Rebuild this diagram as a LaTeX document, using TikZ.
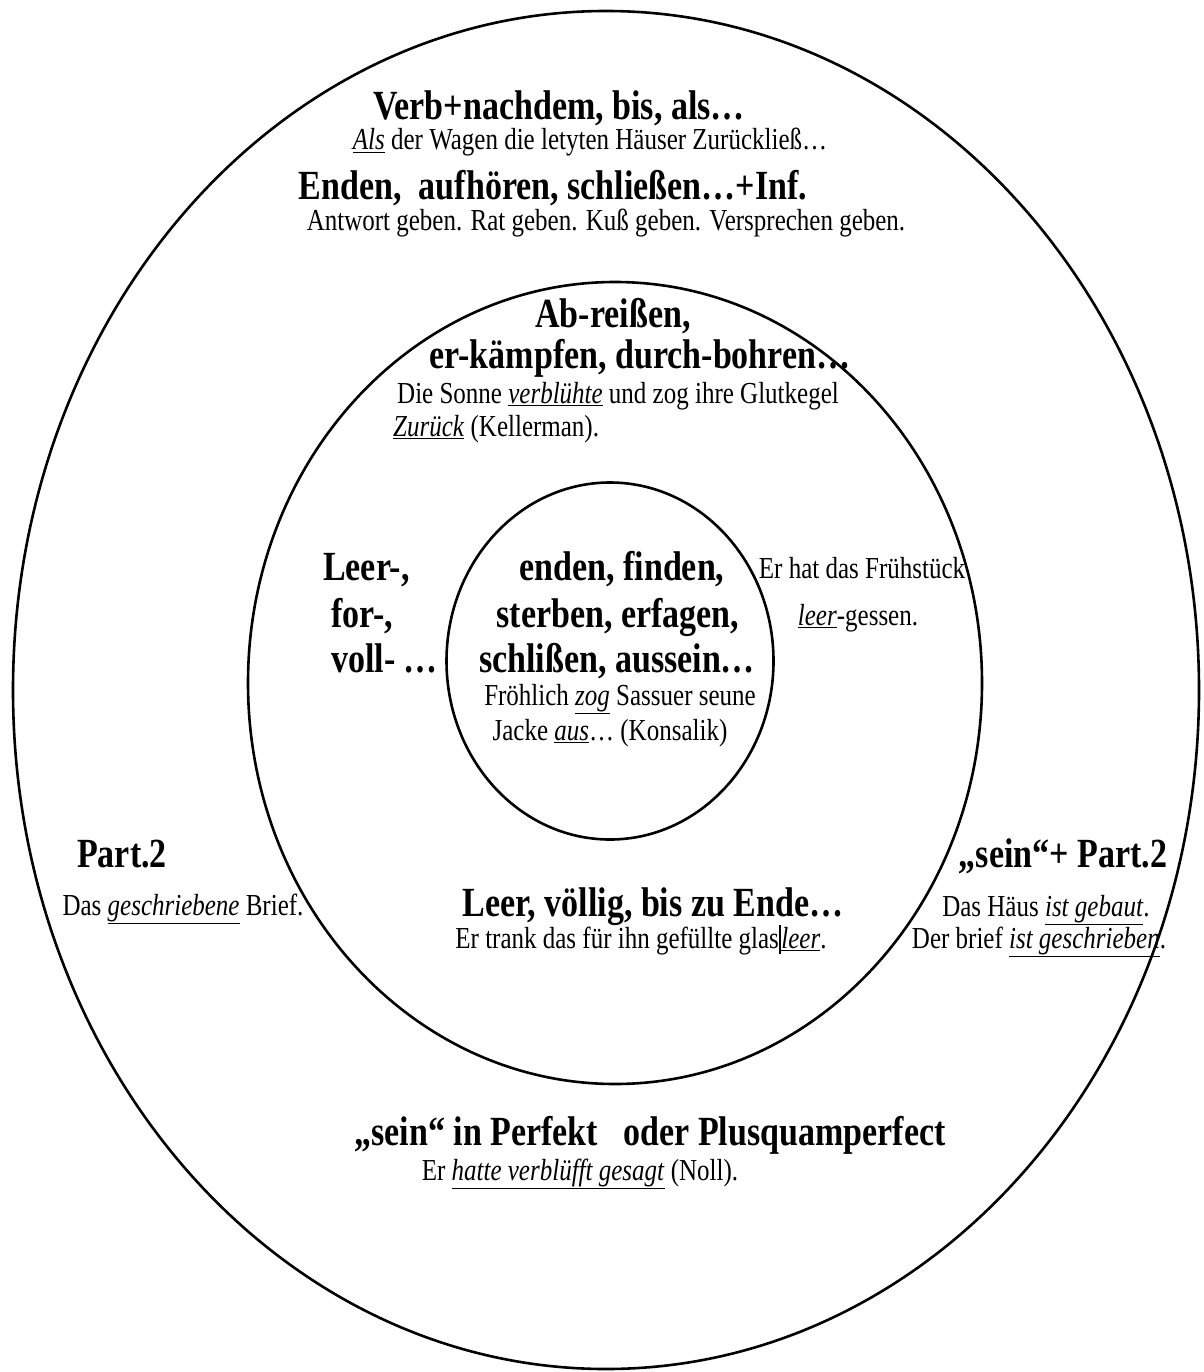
\documentclass[tikz,border=0pt]{standalone}
\usepackage{fontspec}
\setmainfont{Liberation Serif}
\usepackage{graphicx}
\usetikzlibrary{shapes.geometric}
\newcommand\vst[1]{\scalebox{1}[1.22]{#1}}
\newcommand\ulit[1]{\underline{\textit{#1}}}
\tikzset{
  ring/.style={draw, ellipse, line width=2.6pt, inner sep=0pt, outer sep=0pt},
  bigtxt/.style={anchor=base, inner sep=0pt, font=\fontsize{34}{34}\selectfont\bfseries},
  smalltxt/.style={anchor=base, inner sep=0pt, font=\fontsize{25}{25}\selectfont},
}
\begin{document}
\begin{tikzpicture}[x=1pt,y=-1pt]
\useasboundingbox (0,0) rectangle (1203,1372);
% rings
\node[ring, minimum width=1186pt, minimum height=1358pt] (outer) at (606,690) {};
\node[ring, minimum width=734pt, minimum height=802pt] (middle) at (615,683) {};
\node[ring, minimum width=327pt, minimum height=357pt] (inner) at (610,661) {};
% outer top
\node[bigtxt] (t1) at (559,120) {\vst{Verb+nachdem, bis, als…}};
\node[smalltxt] (t2) at (590,150) {\vst{\ulit{Als} der Wagen die letyten Häuser Zurückließ…}};
\node[bigtxt] (t3) at (553,200) {\vst{Enden,\ \ aufhören, schließen…+Inf.}};
\node[smalltxt] (t4) at (606,231) {\vst{Antwort geben. Rat geben. Kuß geben. Versprechen geben.}};
% middle top
\node[bigtxt] (m1) at (613,327) {\vst{Ab-reißen,}};
\node[bigtxt] (m2) at (640,368) {\vst{er-kämpfen, durch-bohren…}};
\node[smalltxt] (m3) at (618,403) {\vst{Die Sonne \ulit{verblühte} und zog ihre Glutkegel}};
\node[smalltxt, anchor=base west] (m4) at (393,436) {\vst{\ulit{Zurück} (Kellerman).}};
% left of inner
\node[bigtxt, anchor=base west] (l1) at (323,580) {\vst{Leer-,}};
\node[bigtxt, anchor=base west] (l2) at (331,627) {\vst{for-,}};
\node[bigtxt, anchor=base west] (l3) at (331,672) {\vst{voll- …}};
% inner
\node[bigtxt] (i1) at (622,580) {\vst{enden, finden,}};
\node[bigtxt] (i2) at (618,627) {\vst{sterben, erfagen,}};
\node[bigtxt] (i3) at (617,672) {\vst{schlißen, aussein…}};
\node[smalltxt] (i4) at (620,705) {\vst{Fröhlich \ulit{zog} Sassuer seune}};
\node[smalltxt] (i5) at (610,740) {\vst{Jacke \ulit{aus}… (Konsalik)}};
% right of inner
\node[smalltxt] (r1) at (862,578) {\vst{Er hat das Frühstück}};
\node[smalltxt] (r2) at (858,625) {\vst{\ulit{leer}-gessen.}};
% left outer
\node[bigtxt] (p1) at (122,867) {\vst{Part.2}};
\node[smalltxt] (p2) at (183,915) {\vst{Das \ulit{geschriebene} Brief.}};
% middle bottom
\node[bigtxt] (b1) at (653,916) {\vst{Leer, völlig, bis zu Ende…}};
\node[smalltxt] (b2) at (641,948) {\vst{Er trank das für ihn gefüllte glas\rule[-5pt]{2.5pt}{24pt}\ulit{leer}.}};
% right outer
\node[bigtxt] (s1) at (1063,867) {\vst{„sein“+ Part.2}};
\node[smalltxt] (s2) at (1046,916) {\vst{Das Häus \ulit{ist gebaut}.}};
\node[smalltxt] (s3) at (1039,948) {\vst{Der brief \ulit{ist geschrieben}.}};
% bottom
\node[bigtxt] (u1) at (650,1145) {\vst{„sein“ in Perfekt\ \ \ oder Plusquamperfect}};
\node[smalltxt] (u2) at (580,1180) {\vst{Er \ulit{hatte verblüfft gesagt} (Noll).}};
\end{tikzpicture}
\end{document}
